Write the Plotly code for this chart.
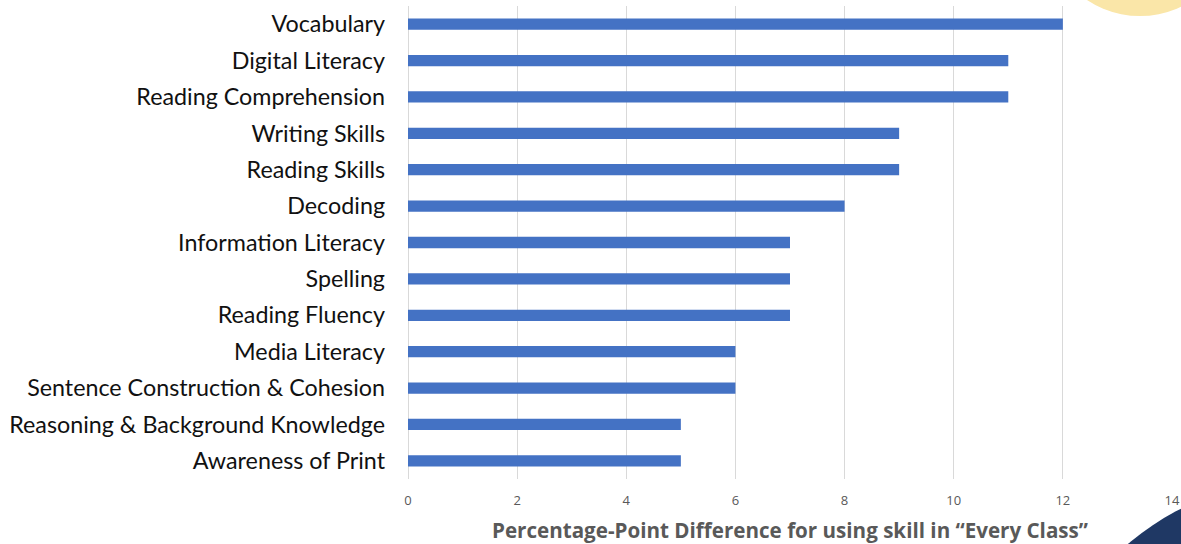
import plotly.graph_objects as go

categories = ["Vocabulary", "Digital Literacy", "Reading Comprehension", "Writing Skills",
              "Reading Skills", "Decoding", "Information Literacy", "Spelling",
              "Reading Fluency", "Media Literacy", "Sentence Construction & Cohesion",
              "Reasoning & Background Knowledge", "Awareness of Print"]
values = [12, 11, 11, 9, 9, 8, 7, 7, 7, 6, 6, 5, 5]
x_ticks = [0, 2, 4, 6, 8, 10, 12, 14]

W, H = 1181, 544
L, R, T, B = 408, 9, 6, 65
pw, ph = W - L - R, H - T - B

def px(x):
    return (x - L) / pw

def py(y):
    return (H - B - y) / ph

fig = go.Figure(go.Bar(
    y=categories, x=values, orientation="h",
    marker=dict(color="#4472C4", line=dict(width=0)),
    width=0.31,
))

fig.update_layout(
    width=W, height=H,
    margin=dict(l=L, r=R, t=T, b=B, autoexpand=False),
    paper_bgcolor="white", plot_bgcolor="white",
    showlegend=False,
    font=dict(family="Lato, Open Sans, sans-serif"),
    xaxis=dict(
        range=[0, 14], tickvals=x_ticks, showgrid=True, gridcolor="#D9D9D9", gridwidth=1,
        zeroline=True, zerolinecolor="#D9D9D9", zerolinewidth=1,
        tickfont=dict(size=13, color="#595959", family="Open Sans, sans-serif"),
        ticklabelstandoff=12,
        title=dict(text="<b>Percentage-Point Difference for using skill in \u201cEvery Class\u201d</b>",
                   font=dict(size=20.6, color="#595959", family="Open Sans, sans-serif"), standoff=16),
        automargin=False,
        fixedrange=True,
    ),
    yaxis=dict(
        categoryorder="array", categoryarray=categories[::-1],
        tickfont=dict(size=23.3, color="#111111", family="Lato, Open Sans, sans-serif"),
        ticklabelstandoff=22, showgrid=False, showline=False, ticks="",
        automargin=False,
        fixedrange=True,
    ),
    shapes=[
        dict(type="circle", xref="paper", yref="paper",
             x0=px(1140 - 96), x1=px(1140 + 96), y0=py(-80 + 96), y1=py(-80 - 96),
             fillcolor="#FAE6A8", line=dict(width=0), layer="above"),
        dict(type="circle", xref="paper", yref="paper",
             x0=px(1305 - 274), x1=px(1305 + 274), y0=py(753 + 274), y1=py(753 - 274),
             fillcolor="#1F3864", line=dict(width=0), layer="above"),
    ],
)

fig.write_html("out.html", config={"displayModeBar": False},
               post_script="document.body.style.margin='0';document.body.style.overflow='hidden';")
